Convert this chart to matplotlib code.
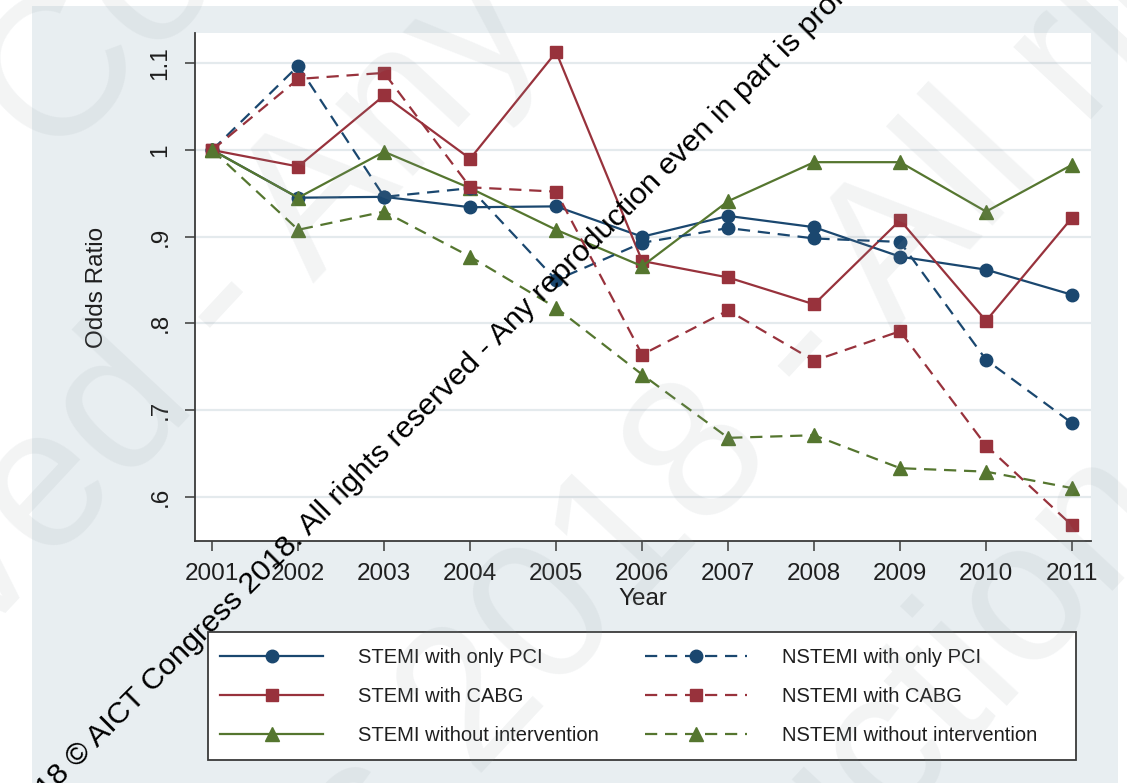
import numpy as np
import matplotlib
matplotlib.use("Agg")
import matplotlib.pyplot as plt
from matplotlib.patches import Rectangle
from matplotlib.font_manager import FontProperties, findfont
from matplotlib.ft2font import FT2Font

# ---- data -------------------------------------------------------------
years = [2001, 2002, 2003, 2004, 2005, 2006, 2007, 2008, 2009, 2010, 2011]

stemi_pci   = [1.000, 0.945, 0.946, 0.934, 0.935, 0.900, 0.924, 0.911, 0.877, 0.862, 0.833]
stemi_cabg  = [1.000, 0.981, 1.063, 0.990, 1.113, 0.872, 0.853, 0.822, 0.919, 0.803, 0.922]
stemi_none  = [1.000, 0.945, 0.998, 0.956, 0.908, 0.866, 0.941, 0.986, 0.986, 0.929, 0.983]
nstemi_pci  = [1.000, 1.097, 0.946, 0.956, 0.850, 0.893, 0.910, 0.898, 0.894, 0.758, 0.685]
nstemi_cabg = [1.000, 1.082, 1.089, 0.957, 0.952, 0.764, 0.815, 0.757, 0.791, 0.659, 0.567]
nstemi_none = [1.000, 0.908, 0.929, 0.877, 0.818, 0.741, 0.668, 0.671, 0.633, 0.629, 0.610]

y_ticks = [0.6, 0.7, 0.8, 0.9, 1.0, 1.1]
y_tick_labels = [".6", ".7", ".8", ".9", "1", "1.1"]

series_labels = ["STEMI with only PCI", "STEMI with CABG", "STEMI without intervention",
                 "NSTEMI with only PCI", "NSTEMI with CABG", "NSTEMI without intervention"]

# ---- style ------------------------------------------------------------
FAMILY = ["Liberation Sans", "DejaVu Sans"]
plt.rcParams["font.family"] = FAMILY
TEXT = "#1e1e1e"
AXIS = "#3a3a3a"
NAVY = "#1a476f"
MAROON = "#98323c"
GREEN = "#55762f"
REGION = "#e8eef1"
GRID = "#e4eaed"

W, H = 1127, 783
fig = plt.figure(figsize=(W / 100, H / 100), dpi=100)
fig.patch.set_facecolor("white")

# light graph region behind the plot area
fig.add_artist(Rectangle((32 / W, 0), (1118 - 32) / W, 1 - 6 / H,
                         transform=fig.transFigure, facecolor=REGION,
                         edgecolor="none", zorder=-10))

ax = fig.add_axes([195 / W, 1 - 541 / H, (1091 - 195) / W, (541 - 33) / H])
ax.set_facecolor("white")

dash = (0, (5.5, 3.5))
lw = 1.6
specs = [
    (stemi_pci,   NAVY,   "o", 9.0, "-"),
    (stemi_cabg,  MAROON, "s", 8.5, "-"),
    (stemi_none,  GREEN,  "^", 9.5, "-"),
    (nstemi_pci,  NAVY,   "o", 9.0, dash),
    (nstemi_cabg, MAROON, "s", 8.5, dash),
    (nstemi_none, GREEN,  "^", 9.5, dash),
]
for (vals, col, mk, ms, ls), lab in zip(specs, series_labels):
    ax.plot(years, vals, color=col, linestyle=ls, linewidth=lw, marker=mk,
            markersize=ms, markerfacecolor=col, markeredgecolor=col, label=lab)

ax.set_xlim(2000.80, 2011.22)
ax.set_ylim(0.549, 1.135)
ax.set_xticks(years)
ax.set_xticklabels([str(y) for y in years])
ax.set_yticks(y_ticks)
ax.set_yticklabels(y_tick_labels)

ax.yaxis.grid(True, color=GRID, linewidth=1.6)
ax.set_axisbelow(True)
for s in ("top", "right"):
    ax.spines[s].set_visible(False)
for s in ("left", "bottom"):
    ax.spines[s].set_color(AXIS)
    ax.spines[s].set_linewidth(1.3)

ax.tick_params(axis="both", direction="out", length=7, width=1.1, color=AXIS,
               labelsize=17.5, labelcolor=TEXT)
ax.tick_params(axis="x", pad=9)
ax.tick_params(axis="y", labelrotation=90, pad=10)
for t in ax.get_yticklabels():
    t.set_va("center")

ax.set_xlabel("Year", fontsize=17.5, color=TEXT, labelpad=2)
ax.set_ylabel("Odds Ratio", fontsize=17.5, color=TEXT, labelpad=30)

# legend: frame drawn as its own box, entries placed inside it
fig.add_artist(Rectangle((208 / W, 1 - 760 / H), (1076 - 208) / W, (760 - 632) / H,
                         transform=fig.transFigure, facecolor="white",
                         edgecolor=AXIS, linewidth=1.3, zorder=1))
leg = ax.legend(ncol=2, loc="upper left",
                bbox_to_anchor=(208 / W, 1 - 636 / H), bbox_transform=fig.transFigure,
                fontsize=14.5, frameon=False, handlelength=5.1,
                handletextpad=1.75, columnspacing=2.25, labelspacing=0.98,
                borderpad=0.62, borderaxespad=0, numpoints=1)
for t in leg.get_texts():
    t.set_color(TEXT)
leg.remove()
fig.add_artist(leg)
leg.set_zorder(2)


# ---- watermark text ---------------------------------------------------
def advance(text, size_px):
    font = FT2Font(findfont(FontProperties(family=FAMILY)))
    font.set_size(size_px, 72)
    return sum(font.load_char(ord(ch)).linearHoriAdvance for ch in text) / 65536.0


def text_along(text, k, cx, cy, size_px, angle, **kw):
    """Draw rotated text so that character k is centred on pixel (cx, cy)."""
    d = advance(text[:k], size_px) + advance(text[k], size_px) / 2
    a = np.radians(angle)
    bx = cx - d * np.cos(a) + 0.36 * size_px * np.sin(a)
    by = cy + d * np.sin(a) + 0.36 * size_px * np.cos(a)
    fig.text(bx / W, 1 - by / H, text, rotation=angle, rotation_mode="anchor",
             ha="left", va="baseline", fontsize=size_px * 0.72, **kw)


notice = "© AICT Congress 2018 - All rights reserved - Any reproduction even in part is prohibited"
faint = dict(color="#8f9aa0", alpha=0.11, zorder=20)
text_along(notice, notice.index("Congress"), 60, 55, 200, 47, **faint)
text_along(notice, notice.index("Any"), 330, 160, 200, 47, **faint)
text_along(notice, notice.index("2018"), 470, 680, 200, 47, **faint)
text_along(notice, notice.index("ction") + 1, 950, 660, 200, 47, **faint)

stamp = "2018 © AICT Congress 2018. All rights reserved - Any reproduction even in part is prohibited"
text_along(stamp, stamp.index("©"), 77, 753, 30.5, 45, color="black", zorder=30)

fig.savefig("out.png", dpi=100, facecolor=fig.get_facecolor())
